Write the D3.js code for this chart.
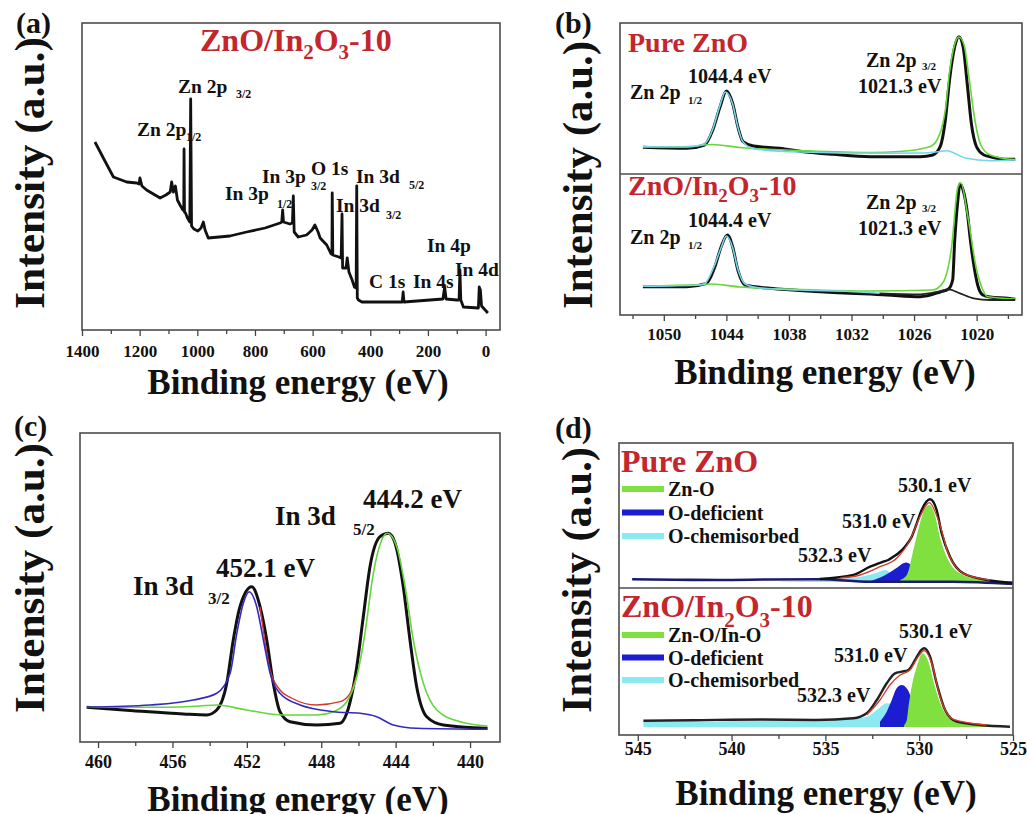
<!DOCTYPE html>
<meta charset="utf-8">
<style>
body,html{margin:0;padding:0;background:#fff;}
svg{display:block;font-family:"Liberation Serif","Times New Roman",Times,serif;}
.frame{fill:none;stroke:#4d4d4d;stroke-width:1.6px;}
.tick line{stroke:#444;stroke-width:1.3px;}
</style>
<svg width="1027" height="814"></svg>
<script src="https://d3js.org/d3.v7.min.js"></script>
<script>

// ---------- data: [binding energy (eV), intensity (a.u.)] ----------

// (a) survey spectrum
var survey = [[1355,188],[1326,172],[1291,153],[1245,148],[1210,147],[1202,146],[1199,152],[1192,144],[1176,140],
  [1129,132],[1109,135],[1094,138],[1089,148],[1083,138],[1076,144],[1069,130],[1060,125],[1050,120],[1047,121],
  [1046,181],[1044.5,118],[1041,117],[1034,112],[1026,108],[1023,231],[1020,104],[1012,101],[998,99],[987,102],
  [979,108],[973,100],[962,92],[887,94],[829,98],[765,102],[713,107],[707,108],[704,120],[701,108],[679,106],
  [670,107],[667,134],[664,98],[650,93],[621,95],[602,100],[592,105],[581,98],[574,92],[551,85],[536,76],[533,76],
  [532,137],[530,75],[509,73],[501,72],[498,116],[496,62],[484,62],[480,72],[474,58],[463,50],[455,43],[449,42],
  [447,144],[445,32],[441,30],[429,28],[289,28],[286,38],[283,28],[148,31],[142,43],[137,31],[100,30],[92,30],
  [89,60],[86,30],[77,23],[25,22],[22,43],[18,40],[14,24],[-8,17]];
var surveyTicks = [1400,1200,1000,800,600,400,200,0];
var surveyMinor = [1300,1100,900,700,500,300,100];

// (b) Zn 2p, pure ZnO (top) and ZnO/In2O3-10 (bottom)
var znTopData = [[1052.0,26.7],[1047.8,25.7],[1046.1,29],[1045.3,44],[1044.6,67.3],[1044.0,83],[1043.4,70.7],
  [1042.9,47.3],[1042.4,32.3],[1041.4,28],[1038.9,25.7],[1036.6,22.3],[1033.8,19.7],[1030.2,17.3],[1025.4,17.3],
  [1024.2,19],[1023.5,27.3],[1023.0,54],[1022.6,94],[1022.1,127.3],[1021.7,137.3],[1021.3,127.3],[1020.9,90],
  [1020.5,50],[1020.0,27],[1019.3,19],[1018.7,17.3],[1017.0,14.7],[1016.3,14.7]];
var znTopGreen = [[1052.0,27],[1047.5,27.5],[1045.4,29.5],[1042.7,26.5],[1036.9,23.5],[1030.2,21.5],[1027.4,22.5],
  [1024.5,27.3],[1023.8,34],[1023.4,44],[1023.0,64],[1022.6,102],[1022.1,130],[1021.7,137],[1021.2,129],
  [1020.7,94],[1020.2,56],[1019.6,29],[1018.7,19],[1017.0,15],[1016.3,14.5]];
var znTopCyan = [[1052.0,27.3],[1047.8,27],[1046.1,30],[1045.3,45],[1044.6,69],[1044.1,82],[1043.4,70],
  [1042.9,47],[1042.4,32],[1041.3,25],[1036.9,22],[1029.3,20.7],[1025.4,21],[1023.7,22.3],[1022.9,23.3],
  [1021.0,15.7],[1018.7,13.3],[1016.3,14]];
var znBotData = [[1052.0,28.3],[1047.8,28.3],[1045.9,31.7],[1045.1,48.3],[1044.5,68.3],[1043.9,80],[1043.4,68.3],
  [1042.9,45],[1042.2,30],[1039.8,26.7],[1035.0,23.3],[1028.6,20],[1025.4,18.3],[1023.5,23],[1022.7,26],
  [1022.3,35],[1022.1,75],[1021.8,115],[1021.6,131],[1021.3,125],[1020.9,103],[1020.6,75],[1020.3,52],
  [1019.9,30],[1019.4,20],[1018.7,18],[1017.0,16.7],[1016.3,15.7]];
var znBotGreen = [[1052.0,29],[1046.5,30.5],[1045.4,31],[1042.7,28],[1036.9,25.5],[1030.2,24],[1024.2,25],
  [1023.2,33],[1022.4,68],[1021.8,128],[1021.5,132],[1020.9,102],[1020.0,45],[1019.4,25],[1019.0,18.5],[1016.3,16]];
var znBotCyan = [[1052.0,28.7],[1046.5,30],[1046.0,32],[1045.2,48],[1044.5,67.5],[1044.0,79],[1043.4,67.5],
  [1042.9,46],[1042.2,31],[1040.8,27],[1036.9,25],[1031.2,23],[1029.3,21.7]];
var znBotDark = [[1029.3,21.7],[1025.4,20.7],[1023.7,23.3],[1022.7,25.7],[1021.6,21.7],[1020.3,16.7],[1018.7,15],[1016.3,15]];
var znTicks = [1050,1044,1038,1032,1026,1020];
var znMinor = [1053,1047,1041,1035,1029,1023,1017];

// (c) In 3d
var inData = [[460.61,34.7],[458.10,31.3],[455.41,28],[454.16,27],[453.62,32],[453.08,58.7],[452.73,102],
  [452.37,135.3],[451.74,155.3],[451.29,135.3],[450.93,102],[450.58,58.7],[450.22,30.3],[449.68,20.3],[448.24,17],
  [446.99,18.7],[446.63,28.7],[446.09,75.3],[445.74,125.3],[445.38,175.3],[444.84,205.3],[444.39,208.7],
  [444.03,198.7],[443.59,155.3],[443.23,102],[442.87,55.3],[442.33,25.3],[441.44,17],[439.06,13.7]];
var inBlue = [[460.61,34.7],[457.20,37],[454.88,42],[453.62,48.7],[452.90,68.7],[452.54,108.7],[452.19,138.7],
  [451.87,150.3],[451.47,135.3],[451.11,102],[450.75,68.7],[450.22,48.7],[449.14,37],[447.35,30.3],[445.91,28.7],
  [445.02,25.3],[444.12,17],[442.87,13.7],[439.06,12.7]];
var inGreen = [[460.61,34.7],[456.31,34.7],[454.52,36],[453.62,37],[452.01,32],[450.04,27],[448.24,27],
  [447.35,30.3],[446.63,40.3],[446.09,65.3],[445.65,108.7],[445.20,168.7],[444.75,202],[444.45,208.7],
  [443.94,195.3],[443.49,155.3],[443.05,102],[442.51,58.7],[441.79,32],[440.54,20.3],[439.06,16]];
var inRed = [[451.29,135],[450.75,72],[450.22,52],[449.6,44],[448.24,37],[446.99,40.3],[446.45,48.7],[446.09,66]];
var inTicks = [460,456,452,448,444,440];
var inMinor = [458,454,450,446,442];

// (d) O 1s, pure ZnO (top) and ZnO/In2O3-10 (bottom)
var oTopBase = 6, oBotBase = 8;
var oTopBg = [[545.3,8.7],[543.0,8.3],[540.6,8],[538.0,8.5],[535.3,8.7],[532.6,6.3],[528.2,6.3],[525.0,4]];
var oTopData = [[535.3,9],[533.51,13],[532.62,21.3],[531.91,26.3],[531.65,28],[531.38,31.3],[531.11,34.7],
  [530.76,41.3],[530.40,51.3],[530.13,64.7],[529.87,78],[529.42,88.7],[529.07,78],[528.80,54.7],[528.36,31.3],
  [527.65,14.7],[526.40,8],[525.0,5.3]];
var oTopRed = [[534.2,10],[533.15,13],[532.09,21.3],[531.20,29.7],[530.49,48],[529.96,71.3],[529.46,85.3],
  [528.98,68],[528.45,34.7],[527.65,14.7],[526.23,8]];
var oTopCyan = [[537.4,6.5],[534.4,8.7],[533.15,11.3],[532.26,15.3],[531.82,18],[531.38,13],[530.85,8]];
var oTopBlue = [[532.6,7],[531.9,12],[531.25,19.5],[530.70,25.5],[530.25,20.5],[529.78,12],[529.07,7.3],[528.5,6]];
var oTopGreen = [[531.02,8],[530.66,13],[530.31,38],[529.96,64.7],[529.69,79.7],[529.46,83],[529.16,73],
  [528.90,51.3],[528.45,28],[527.83,14.7],[526.76,8.7],[525.0,6.3]];
var oBotData = [[544.70,14.3],[542.0,14.8],[538.48,15.5],[535.5,15.0],[533.51,16.7],[532.80,21.7],[532.26,35],
  [531.73,51.7],[531.29,61.7],[530.93,63.3],[530.58,65],[530.22,75],[529.96,83.3],[529.74,86.7],[529.42,78.3],
  [529.07,51.7],[528.62,25],[528.00,13.3],[526.76,10],[525.16,8.3]];
var oBotRed = [[532.80,20],[532.09,35],[531.56,50],[531.02,60],[530.49,65],[530.05,78.3],[529.74,84.3],
  [529.33,71.7],[528.89,38.3],[528.18,15.7],[526.40,10]];
var oBotCyan = [[544.70,13],[540.61,13.7],[536.35,15],[533.51,16.7],[532.80,18.3],[532.26,25],[531.73,31.7],
  [531.20,28.3],[530.66,18.3],[529.96,13.3],[528.18,10],[525.52,8.5]];
var oBotBlue = [[532.09,13.3],[531.73,23.3],[531.46,35],[531.20,46.7],[530.93,50],[530.63,45.7],[530.31,31.7],
  [529.96,18.3],[529.42,11.7],[528.18,9],[526.40,8]];
var oBotGreen = [[530.80,10],[530.66,15],[530.57,28.3],[530.40,48.3],[530.13,68.3],[529.81,81.7],[529.51,73.3],
  [529.16,48.3],[528.80,28.3],[528.18,15],[527.12,10],[525.52,8.5]];
var oTicks = [545,540,535,530,525];
var oMinor = [542.5,537.5,532.5,527.5];
var oTopLegend = ["Zn-O","O-deficient","O-chemisorbed"];
var oBotLegend = ["Zn-O/In-O","O-deficient","O-chemisorbed"];

// ---------- helpers ----------
var svg = d3.select("svg");
var serif = '"Liberation Serif","Times New Roman",Times,serif';
var RED = "#c3262c", GREEN = "#66d63a", CYAN = "#74d6e6", BLUE = "#3528c0";
var FILL_G = "#80e040", FILL_B = "#1c1cd0", FILL_C = "#8be9f2";

function txt(x, y, s, size, o) {
  o = o || {};
  return svg.append("text").attr("x", x).attr("y", y).text(s)
    .attr("font-size", size).attr("font-weight", o.light ? "normal" : "bold")
    .attr("fill", o.color || "#111").attr("font-family", serif);
}

function formula(x, y, size, subSize, dy) {
  // ZnO/In2O3-10 in red with subscripts
  var t = svg.append("text").attr("x", x).attr("y", y).attr("font-family", serif)
    .attr("font-size", size).attr("font-weight", "bold").attr("fill", RED);
  t.append("tspan").text("ZnO/In");
  t.append("tspan").text("2").attr("font-size", subSize).attr("dy", dy);
  t.append("tspan").text("O").attr("dy", -dy);
  t.append("tspan").text("3").attr("font-size", subSize).attr("dy", dy);
  t.append("tspan").text("-10").attr("dy", -dy);
}

function frame(x0, y0, x1, y1) {
  svg.append("rect").attr("class", "frame").attr("x", x0).attr("y", y0)
    .attr("width", x1 - x0).attr("height", y1 - y0);
}

function xAxis(x, yPos, major, minor, fs, pad) {
  svg.append("g").attr("transform", "translate(0," + yPos + ")")
    .call(d3.axisBottom(x).tickValues(minor).tickSize(4).tickFormat(""))
    .call(function (a) { a.select(".domain").remove(); });
  var ax = svg.append("g").attr("transform", "translate(0," + yPos + ")")
    .call(d3.axisBottom(x).tickValues(major).tickSize(6).tickPadding(pad).tickFormat(d3.format("d")));
  ax.select(".domain").remove();
  ax.attr("font-family", serif).attr("font-size", fs).attr("font-weight", "bold");
  ax.selectAll("text").attr("fill", "#111");
}

function yTitle(x, yc, len) {
  svg.append("text").attr("transform", "translate(" + x + "," + yc + ") rotate(-90)")
    .attr("text-anchor", "middle").attr("font-family", serif).attr("font-weight", "bold")
    .attr("font-size", 42).attr("fill", "#111")
    .attr("textLength", len).attr("lengthAdjust", "spacingAndGlyphs")
    .text("Intensity (a.u.)");
}

function xTitle(xc, y) {
  svg.append("text").attr("x", xc).attr("y", y).attr("text-anchor", "middle")
    .attr("font-family", serif).attr("font-weight", "bold").attr("font-size", 35)
    .attr("fill", "#111").text("Binding energy (eV)");
}

function curve(x, y, data, color, w, linear) {
  var line = d3.line().x(function (d) { return x(d[0]); }).y(function (d) { return y(d[1]); })
    .curve(linear ? d3.curveLinear : d3.curveMonotoneX);
  svg.append("path").datum(data).attr("d", line).attr("fill", "none")
    .attr("stroke", color).attr("stroke-width", w).attr("stroke-linejoin", "round");
}

function fillPeak(x, y, data, base, color) {
  var area = d3.area().x(function (d) { return x(d[0]); }).y0(y(base))
    .y1(function (d) { return y(d[1]); }).curve(d3.curveMonotoneX);
  svg.append("path").datum(data).attr("d", area).attr("fill", color);
}

function label(x, y, main, sub, size, subSize, sx, sdy) {
  txt(x, y, main, size);
  if (sub) txt(sx, y + sdy, sub, subSize);
}

// ---------- (a) survey ----------
var xa = d3.scaleLinear().domain([1400, -50]).range([82, 500]);
var ya = d3.scaleLinear().domain([0, 307]).range([330, 23]);
curve(xa, ya, survey, "#111", 2.8, true);
frame(82, 23, 500, 330);
xAxis(xa, 330, surveyTicks, surveyMinor, 17, 9);
formula(200, 51, 32, 21, 8);
label(178, 93, "Zn 2p", "3/2", 19.5, 12, 236, 5);
label(137, 136, "Zn 2p", "1/2", 19.5, 12, 186, 5);
label(225, 200, "In 3p", "1/2", 19.5, 12, 277, 8);
label(262, 183, "In 3p", "3/2", 19.5, 12, 311, 7);
txt(311, 175, "O 1s", 19.5);
label(356, 183, "In 3d", "5/2", 19.5, 12, 409, 6);
label(336, 212, "In 3d", "3/2", 19.5, 12, 386, 7);
txt(369, 288, "C 1s", 19.5);
txt(413, 288, "In 4s", 19.5);
txt(427, 252, "In 4p", 19.5);
txt(455, 276, "In 4d", 19.5);
yTitle(44, 173, 272);
xTitle(298, 394);
txt(16, 33, "(a)", 30);

// ---------- (b) Zn 2p ----------
var xb = d3.scaleLinear().domain([1054.2, 1015.65]).range([620, 1022]);
var ybT = d3.scaleLinear().domain([0, 151]).range([174, 23]);
var ybB = d3.scaleLinear().domain([0, 141]).range([315, 174]);
curve(xb, ybT, znTopData, "#111", 3);
curve(xb, ybT, znTopGreen, GREEN, 1.6);
curve(xb, ybT, znTopCyan, CYAN, 1.6);
curve(xb, ybB, znBotData, "#111", 3);
curve(xb, ybB, znBotGreen, GREEN, 1.6);
curve(xb, ybB, znBotCyan, CYAN, 1.6);
curve(xb, ybB, znBotDark, "#222", 1.8);
frame(620, 23, 1022, 315);
svg.append("line").attr("x1", 620).attr("x2", 1022).attr("y1", 174).attr("y2", 174)
  .attr("stroke", "#4d4d4d").attr("stroke-width", 1.6);
xAxis(xb, 315, znTicks, znMinor, 17, 7);
txt(628, 52, "Pure ZnO", 28, {color: RED});
label(630, 99, "Zn 2p", "1/2", 20, 11, 688, 5);
txt(688, 83, "1044.4 eV", 20);
label(866, 67, "Zn 2p", "3/2", 20, 11, 922, 3);
txt(858, 93, "1021.3 eV", 20);
formula(628, 195, 28, 19, 7);
label(630, 244, "Zn 2p", "1/2", 20, 11, 688, 5);
txt(688, 227, "1044.4 eV", 20);
label(866, 209, "Zn 2p", "3/2", 20, 11, 922, 3);
txt(858, 235, "1021.3 eV", 20);
yTitle(592, 175, 268);
xTitle(825, 384);
txt(555, 33, "(b)", 30);

// ---------- (c) In 3d ----------
var xc = d3.scaleLinear().domain([460.97, 438.39]).range([80, 500]);
var yc = d3.scaleLinear().domain([0, 309]).range([742, 433]);
curve(xc, yc, inData, "#111", 3);
curve(xc, yc, inRed, "#d23a2a", 1.4);
curve(xc, yc, inGreen, GREEN, 1.6);
curve(xc, yc, inBlue, BLUE, 1.6);
frame(80, 433, 500, 742);
xAxis(xc, 742, inTicks, inMinor, 18, 7);
label(133, 595, "In 3d", "3/2", 27, 17, 208, 9);
txt(216, 577, "452.1 eV", 27);
label(275, 525, "In 3d", "5/2", 27, 17, 353, 10);
txt(363, 508, "444.2 eV", 27);
yTitle(44, 578, 270);
xTitle(298, 811);
txt(14, 436, "(c)", 30);

// ---------- (d) O 1s ----------
var xd = d3.scaleLinear().domain([546, 525]).range([619, 1013]);
var ydT = d3.scaleLinear().domain([0, 145]).range([588, 443]);
var ydB = d3.scaleLinear().domain([0, 147]).range([735, 588]);
fillPeak(xd, ydT, oTopCyan, oTopBase, FILL_C);
fillPeak(xd, ydT, oTopBlue, oTopBase, FILL_B);
fillPeak(xd, ydT, oTopGreen, oTopBase, FILL_G);
curve(xd, ydT, oTopBg, "#1a1a70", 2.6);
curve(xd, ydT, oTopData, "#111", 2.4);
curve(xd, ydT, oTopRed, "#d23a2a", 1.3);
fillPeak(xd, ydB, oBotCyan, oBotBase, FILL_C);
fillPeak(xd, ydB, oBotBlue, oBotBase, FILL_B);
fillPeak(xd, ydB, oBotGreen, oBotBase, FILL_G);
curve(xd, ydB, oBotData, "#222", 2.4);
curve(xd, ydB, oBotRed, "#d23a2a", 1.3);
frame(619, 443, 1013, 735);
svg.append("line").attr("x1", 619).attr("x2", 1013).attr("y1", 588).attr("y2", 588)
  .attr("stroke", "#4d4d4d").attr("stroke-width", 1.6);
xAxis(xd, 735, oTicks, oMinor, 18, 1);

var swatch = [FILL_G, FILL_B, FILL_C];
function legend(items, y0, step) {
  items.forEach(function (s, i) {
    svg.append("rect").attr("x", 622).attr("y", y0 + i * step - 3).attr("width", 42).attr("height", 6)
      .attr("fill", swatch[i]);
    txt(668, y0 + i * step + 7, s, 20);
  });
}
txt(621, 472, "Pure ZnO", 32, {color: RED});
legend(oTopLegend, 489, 23.5);
txt(898, 492, "530.1 eV", 20);
txt(842, 528, "531.0 eV", 20);
txt(798, 562, "532.3 eV", 20);
formula(621, 617, 32, 21, 10);
legend(oBotLegend, 635, 22.5);
txt(899, 638, "530.1 eV", 20);
txt(834, 662, "531.0 eV", 20);
txt(797, 702, "532.3 eV", 20);
yTitle(591, 580, 266);
xTitle(826, 805);
txt(555, 438, "(d)", 30);

</script>
